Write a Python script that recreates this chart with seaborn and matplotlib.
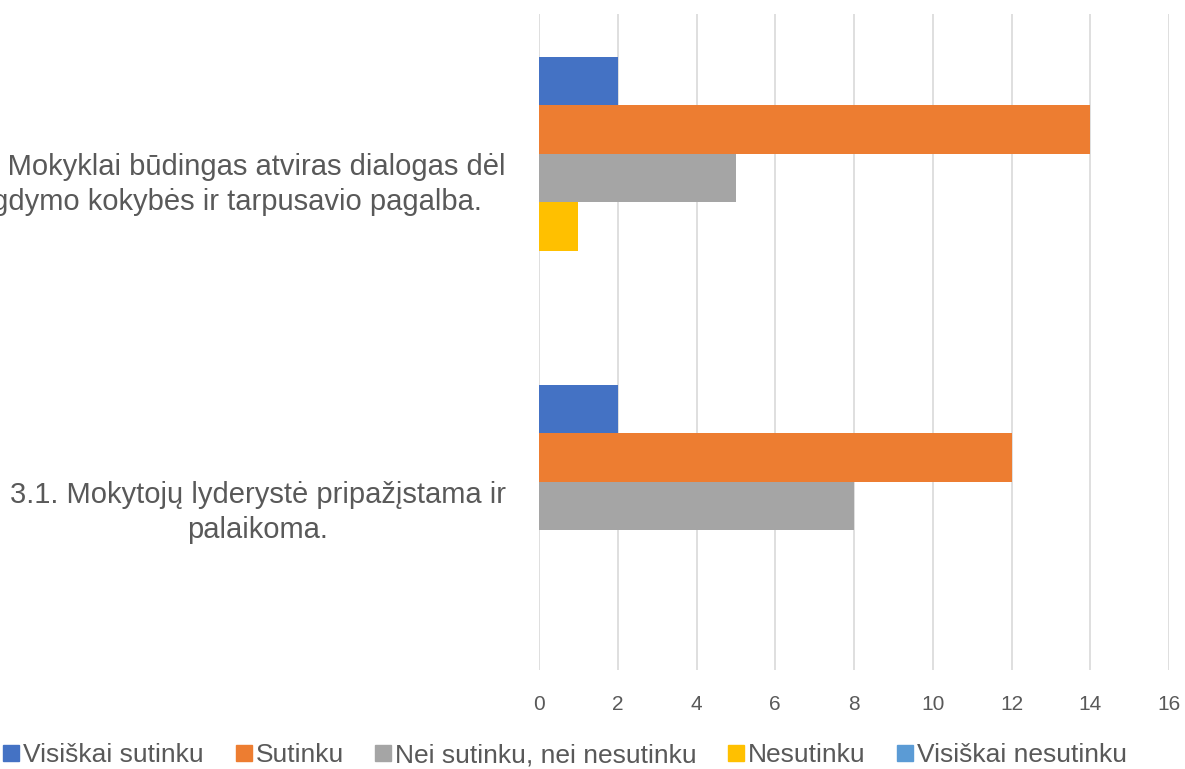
import matplotlib.pyplot as plt
from matplotlib.lines import Line2D
import pandas as pd
import seaborn as sns

# Survey statements (top to bottom as drawn)
items = ['3.2. Mokyklai būdingas atviras dialogas dėl\nugdymo kokybės ir tarpusavio pagalba.',
         '3.1. Mokytojų lyderystė pripažįstama ir\npalaikoma.']

responses = ['Visiškai sutinku',
             'Sutinku',
             'Nei sutinku, nei nesutinku',
             'Nesutinku',
             'Visiškai nesutinku']

# Number of answers for each response, per statement
counts_32 = [2, 14, 5, 1, 0]
counts_31 = [2, 12, 8, 0, 0]

colors = ['#4472C4', '#ED7D31', '#A5A5A5', '#FFC000', '#5B9BD5']

rows = []
for item, counts in zip(items, [counts_32, counts_31]):
    for resp, n in zip(responses, counts):
        rows.append({'Item': item, 'Response': resp, 'Count': n})
df = pd.DataFrame(rows)

sns.set_style('white')
plt.rcParams['font.family'] = ['Liberation Sans Narrow', 'Liberation Sans', 'DejaVu Sans']
text_col = '#595959'

fig = plt.figure(figsize=(11.85, 7.69), dpi=100)
ax = fig.add_axes([0.4549, 0.1287, 0.5316, 0.8531])

sns.barplot(data=df, y='Item', x='Count', hue='Response',
            order=items, hue_order=responses, palette=colors,
            orient='h', width=0.74, saturation=1, linewidth=0,
            legend=False, ax=ax)

ax.set_xlim(0, 16)
ax.set_xticks(range(0, 17, 2))
ax.set_xlabel('')
ax.set_ylabel('')
ax.grid(axis='x', color='#D9D9D9', linewidth=1.2)
ax.grid(axis='y', visible=False)
ax.set_axisbelow(True)
for s in ax.spines.values():
    s.set_visible(False)

ax.tick_params(axis='x', length=0, labelsize=15, labelcolor=text_col, pad=18)
ax.tick_params(axis='y', length=0, labelsize=21, labelcolor=text_col, pad=24)
for lab in ax.get_yticklabels():
    lab.set_multialignment('center')
    lab.set_linespacing(1.3)

handles = [Line2D([0], [0], marker='s', linestyle='', markersize=12,
                  markerfacecolor=c, markeredgecolor=c) for c in colors]
fig.legend(handles, responses, loc='center', bbox_to_anchor=(0.476, 0.018),
           ncol=5, frameon=False, fontsize=19, labelcolor=text_col,
           handletextpad=0.05, columnspacing=1.1, handlelength=0.8)

fig.savefig('out.png', dpi=100)
